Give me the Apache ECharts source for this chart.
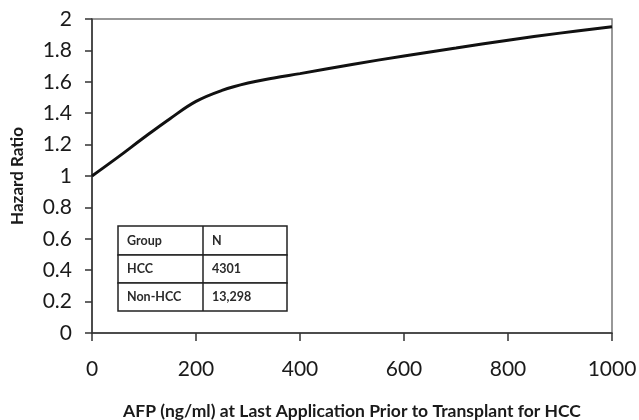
<!DOCTYPE html>
<html>
<head>
<meta charset="utf-8">
<script src="https://cdn.jsdelivr.net/npm/echarts@6/dist/echarts.min.js"></script>
<style>
  html, body { margin: 0; padding: 0; background: #fff; }
  #chart { width: 639px; height: 420px; }
</style>
</head>
<body>
<div id="chart"></div>
<script>
// AFP values (ng/ml) and the hazard ratio
const afp = [0, 50, 100, 150, 200, 250, 300, 350, 400, 500, 600, 700, 800, 900, 1000];
const hazard = [1.0, 1.12, 1.245, 1.365, 1.475, 1.545, 1.592, 1.624, 1.652, 1.71, 1.765, 1.815, 1.865, 1.91, 1.95];

// inset table
const tableHeader = ['Group', 'N'];
const tableRows = [['HCC', '4301'], ['Non-HCC', '13,298']];

const font = 'Lato, "Open Sans", sans-serif';
const axisColor = '#333';

const chart = echarts.init(document.getElementById('chart'));

// build inset table as graphic elements
const tx = 118, ty = 226, colX = 203, tw = 169;
const rowH = [29, 28, 28];
const graphic = [];
let y = ty;
const allRows = [tableHeader].concat(tableRows);
allRows.forEach((row, i) => {
  graphic.push({
    type: 'rect',
    shape: { x: tx, y: y, width: tw, height: rowH[i] },
    style: { fill: '#fff', stroke: '#222', lineWidth: 1.5 }
  });
  graphic.push({
    type: 'text', x: tx + 9, y: y + rowH[i] / 2,
    style: { text: row[0], font: 'bold 12.5px ' + font, fill: '#2a2a2a', verticalAlign: 'middle' }
  });
  graphic.push({
    type: 'text', x: colX + 9, y: y + rowH[i] / 2,
    style: { text: row[1], font: 'bold 12.5px ' + font, fill: '#2a2a2a', verticalAlign: 'middle' }
  });
  y += rowH[i];
});
graphic.push({
  type: 'line',
  shape: { x1: colX, y1: ty, x2: colX, y2: y },
  style: { stroke: '#222', lineWidth: 1.5 }
});

chart.setOption({
  animation: false,
  backgroundColor: '#fff',
  grid: {
    left: 92, right: 27, top: 19, bottom: 87,
    outerBoundsMode: 'none',
    show: true, borderColor: '#777', borderWidth: 1.5
  },
  xAxis: {
    type: 'value',
    min: 0, max: 1000, interval: 200,
    name: 'AFP (ng/ml) at Last Application Prior to Transplant for HCC',
    nameLocation: 'middle',
    nameGap: 69,
    nameTextStyle: { fontFamily: font, fontWeight: 'bold', fontSize: 17.5, color: '#1a1a1a' },
    axisLine: { show: true, lineStyle: { color: axisColor, width: 1.5 } },
    axisTick: { show: true, inside: false, length: 8, lineStyle: { color: axisColor, width: 1.5 } },
    axisLabel: { fontFamily: font, fontSize: 21, color: '#1a1a1a', margin: 26, formatter: v => String(v) },
    splitLine: { show: false }
  },
  yAxis: {
    type: 'value',
    min: 0, max: 2, interval: 0.2,
    name: 'Hazard Ratio',
    nameLocation: 'middle',
    nameGap: 66,
    nameTextStyle: { fontFamily: font, fontWeight: 'bold', fontSize: 17, color: '#1a1a1a' },
    axisLine: { show: true, lineStyle: { color: axisColor, width: 1.5 } },
    axisTick: { show: true, inside: false, length: 7, lineStyle: { color: axisColor, width: 1.5 } },
    axisLabel: { fontFamily: font, fontSize: 21, color: '#1a1a1a', margin: 20 },
    splitLine: { show: false }
  },
  series: [{
    type: 'line',
    data: afp.map((v, i) => [v, hazard[i]]),
    smooth: 0.4,
    showSymbol: false,
    lineStyle: { color: '#111', width: 3 }
  }],
  graphic: graphic
});
</script>
</body>
</html>
